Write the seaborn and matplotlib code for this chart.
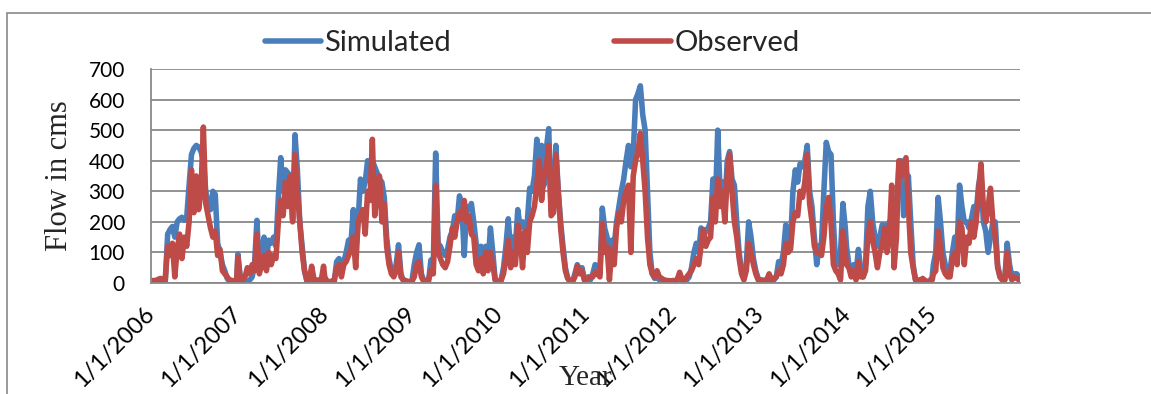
import numpy as np
import pandas as pd
import matplotlib
matplotlib.use("Agg")
import matplotlib.pyplot as plt
from matplotlib.lines import Line2D
from matplotlib.patches import Rectangle
import seaborn as sns

# ---------------- data (~10-day steps) ----------------
years = [2006, 2007, 2008, 2009, 2010, 2011, 2012, 2013, 2014, 2015]
step_days = 10

sim_2006 = [3,3,3,3,3,3,5,160,175,185,150,200,210,215,205,215,320,420,440,450,445,430,400,300,250,240,300,290,130,100,60,40,15,5,3,2,2]
obs_2006 = [8,8,8,12,15,10,12,120,90,130,20,110,160,80,150,120,200,370,230,350,240,300,510,260,220,180,150,170,90,110,40,30,20,10,8,8,8]
sim_2007 = [95,20,5,5,5,10,20,60,205,40,100,150,80,140,130,150,120,280,410,300,370,360,350,210,485,370,200,120,40,5,5,5,3,2,2,2,2]
obs_2007 = [85,10,10,20,50,30,60,40,160,30,60,90,40,100,60,90,80,200,270,220,330,250,350,200,420,300,200,100,40,10,10,55,10,8,10,8,55]
sim_2008 = [3,3,2,2,5,70,80,60,70,100,140,130,240,100,200,340,300,330,400,390,400,380,360,340,330,280,150,80,40,30,60,125,30,8,5,3,2]
obs_2008 = [20,5,5,5,10,50,60,20,60,70,90,110,150,50,200,220,240,160,300,270,470,220,300,350,200,260,120,60,30,20,40,100,20,10,8,5,5]
sim_2009 = [5,60,100,125,30,8,3,5,75,60,425,130,120,100,90,110,150,170,220,200,285,250,90,250,240,260,200,130,80,120,60,120,60,180,100,10,5]
obs_2009 = [5,20,60,70,20,5,5,10,40,30,320,100,80,60,50,70,120,180,150,200,230,210,270,200,220,160,150,60,40,80,30,100,40,100,60,10,5]
sim_2010 = [3,10,50,120,210,100,150,120,240,180,200,180,200,310,300,350,470,330,450,320,440,505,240,260,450,300,200,120,50,15,5,5,30,60,40,50,10]
obs_2010 = [5,8,30,80,140,50,100,60,190,150,50,170,100,200,220,250,320,400,270,350,380,450,220,230,420,300,180,100,40,15,5,5,20,55,30,40,10]
sim_2011 = [10,20,10,30,60,50,30,245,180,150,80,140,120,200,250,300,340,400,450,380,420,600,620,645,550,500,300,100,30,15,20,10,10,10,5,5,3]
obs_2011 = [10,15,20,20,35,30,20,195,100,120,10,110,60,180,230,200,270,300,320,100,350,400,430,490,400,300,150,60,30,20,40,20,15,10,8,8,5]
sim_2012 = [5,5,10,30,10,5,10,20,50,100,130,100,180,150,170,180,200,340,250,500,300,330,250,400,430,340,320,200,100,40,15,60,200,150,80,40,15]
obs_2012 = [8,8,10,35,10,10,20,30,40,60,80,60,120,175,120,140,150,280,200,340,250,300,200,350,420,300,200,150,80,30,10,40,130,100,60,30,10]
sim_2013 = [10,5,5,5,10,5,10,20,70,60,100,190,150,130,300,370,330,390,380,400,450,300,250,150,60,120,130,300,460,430,420,200,60,60,100,260,180]
obs_2013 = [10,10,8,10,30,10,15,20,40,30,60,130,100,110,200,230,220,300,280,330,420,260,200,120,100,100,90,150,250,280,200,60,40,30,10,170,100]
sim_2014 = [120,60,50,60,30,110,40,20,60,250,300,200,150,120,150,190,190,120,200,200,100,250,380,400,220,250,350,200,60,10,5,3,3,3,3,5,20]
obs_2014 = [60,50,20,40,10,70,20,20,40,150,200,140,100,50,100,120,180,100,150,320,50,150,400,350,380,410,250,100,50,10,10,8,15,8,5,5,10]
sim_2015 = [60,100,280,200,100,60,30,40,100,150,120,320,250,200,200,180,210,250,230,320,360,200,170,100,150,200,200,60,20,10,10,130,60,20,30,30,20]
obs_2015 = [30,40,170,120,50,30,20,20,80,100,60,200,180,60,150,130,200,150,200,300,390,250,200,250,310,200,150,50,20,10,10,100,30,10,20,15,10]

series_names = ["Simulated", "Observed"]
tick_labels = [f"1/1/{y}" for y in years]
y_ticks = [0, 100, 200, 300, 400, 500, 600, 700]

sim_by_year = [sim_2006, sim_2007, sim_2008, sim_2009, sim_2010,
               sim_2011, sim_2012, sim_2013, sim_2014, sim_2015]
obs_by_year = [obs_2006, obs_2007, obs_2008, obs_2009, obs_2010,
               obs_2011, obs_2012, obs_2013, obs_2014, obs_2015]

frames = []
for y, s, o in zip(years, sim_by_year, obs_by_year):
    d = pd.Timestamp(f"{y}-01-01") + pd.to_timedelta(np.arange(len(s)) * step_days, unit="D")
    frames.append(pd.DataFrame({"Date": d, "Flow": s, "Series": series_names[0]}))
    frames.append(pd.DataFrame({"Date": d, "Flow": o, "Series": series_names[1]}))
df = pd.concat(frames, ignore_index=True)

# ---------------- style ----------------
sns.set_style("white")
plt.rcParams["font.family"] = ["Lato", "DejaVu Sans"]

BLUE = "#4A7EBB"
RED = "#BE4B48"
GRID = "#898989"
LW = 4.0

W, H = 1151, 394
fig = plt.figure(figsize=(W / 100, H / 100), dpi=100)
fig.patch.set_facecolor("white")

x0, x1, ytop, ybot = 151, 1020, 69, 283
ax = fig.add_axes([x0 / W, 1 - ybot / H, (x1 - x0) / W, (ybot - ytop) / H])

sns.lineplot(data=df, x="Date", y="Flow", hue="Series",
             palette={series_names[0]: BLUE, series_names[1]: RED},
             hue_order=series_names, linewidth=LW, legend=False, ax=ax,
             solid_joinstyle="round", solid_capstyle="round")

ax.set_xlim(pd.Timestamp("2006-01-01"), pd.Timestamp("2015-12-31"))
ax.set_ylim(0, 700)
ax.set_yticks(y_ticks)
ax.set_yticklabels([str(v) for v in y_ticks], fontsize=15)
tick_pos = [pd.Timestamp(f"{y}-01-01") for y in years]
ax.set_xticks(tick_pos)
ax.set_xticklabels(tick_labels, fontsize=17, rotation=45, ha="right",
                   va="center", rotation_mode="anchor")
ax.set_xlabel("")
ax.set_ylabel("")

ax.grid(axis="y", color=GRID, linewidth=1.3)
ax.set_axisbelow(True)
for side in ["top", "right"]:
    ax.spines[side].set_visible(False)
for side in ["left", "bottom"]:
    ax.spines[side].set_color(GRID)
    ax.spines[side].set_linewidth(1.3)
ax.tick_params(axis="y", direction="out", length=5.8, width=1.3, color=GRID, pad=13, labelcolor="black")
ax.tick_params(axis="x", direction="out", length=5, width=1.3, color=GRID, pad=15, labelcolor="black")

# axis titles
fig.text(60 / W, 1 - 176 / H, "Flow in cms", rotation=90, ha="center", va="center",
         fontsize=22, family=["Liberation Serif", "DejaVu Serif"])
fig.text(586 / W, 1 - 378 / H, "Year", ha="center", va="center",
         fontsize=21, family=["Liberation Serif", "DejaVu Serif"])

# legend
handles = [Line2D([], [], color=BLUE, lw=LW), Line2D([], [], color=RED, lw=LW)]
fig.legend(handles, series_names, ncol=2, loc="center",
           bbox_to_anchor=(532 / W, 1 - 43 / H), frameon=False, fontsize=21,
           handlelength=1.95, handletextpad=0.1, columnspacing=5.6)

# chart-area border (top / left visible)
fig.add_artist(Rectangle((7 / W, -1), 2, 1 - 13 / H + 1, transform=fig.transFigure,
                         fill=False, edgecolor=GRID, linewidth=1.2, clip_on=False))

fig.savefig("out.png", dpi=100, facecolor="white")
